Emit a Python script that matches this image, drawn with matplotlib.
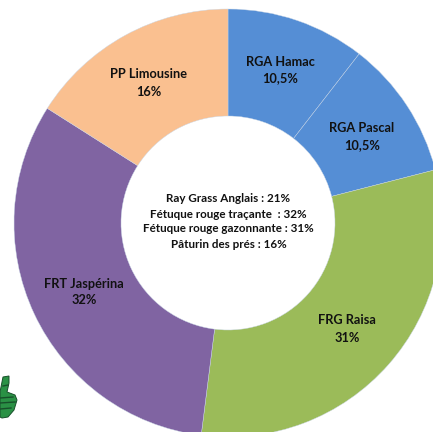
import matplotlib
matplotlib.use('Agg')
import matplotlib.pyplot as plt
from matplotlib.patches import Polygon

plt.rcParams['font.family'] = ['Lato', 'DejaVu Sans']

W, H = 433, 432

# values in percent, clockwise from the top
varietes = ['RGA Hamac', 'RGA Pascal', 'FRG Raisa', 'FRT Jaspérina', 'PP Limousine']
parts = [10.5, 10.5, 31, 32, 16]
parts_txt = ['10,5%', '10,5%', '31%', '32%', '16%']
couleurs = ['#558ed5', '#558ed5', '#9bbb59', '#8064a2', '#fac090']

# label centres, in image pixels
label_x = [280, 362, 347, 84, 149]
label_y = [70, 137, 329, 292, 83]

resume = ['Ray Grass Anglais : 21%',
          'Fétuque rouge traçante  : 32%',
          'Fétuque rouge gazonnante : 31%',
          'Pâturin des prés : 16%']
resume_y = [198, 214, 229, 245]

fig = plt.figure(figsize=(W / 100, H / 100), dpi=100)
ax = fig.add_axes([0, 0, 1, 1])

ax.pie(parts, colors=couleurs, startangle=90, counterclock=False,
       center=(228, H - 223), radius=214,
       wedgeprops=dict(width=107, edgecolor='#c9d6e6', linewidth=0.3),
       frame=True)
ax.set_xlim(0, W)
ax.set_ylim(0, H)
ax.set_aspect('equal')
ax.axis('off')

for nom, txt, x, y in zip(varietes, parts_txt, label_x, label_y):
    ax.text(x, H - y, nom + '\n' + txt, ha='center', va='center',
            fontsize=9.2, fontweight='bold', color='#111111', linespacing=1.5)

for ligne, y in zip(resume, resume_y):
    ax.text(228.5, H - y, ligne, ha='center', va='center',
            fontsize=8.4, fontweight='bold', color='#111111')

# little green thumb, bottom left
pouce = [(3, 377), (9, 376), (9, 383), (7, 392), (15, 395), (17, 400),
         (14, 410), (8, 417), (2, 418), (0, 417), (0, 392)]
ax.add_patch(Polygon([(x, H - y) for x, y in pouce], closed=True,
                     facecolor='#2a9145', edgecolor='#17502a', linewidth=0.7))
for x1, x2, y1, y2 in [(0, 13, 398, 397), (0, 15, 403, 402), (0, 11, 409, 408), (3, 8, 386, 385)]:
    ax.plot([x1, x2], [H - y1, H - y2], color='#17502a', linewidth=1.0)

fig.savefig('out.png', dpi=100)
